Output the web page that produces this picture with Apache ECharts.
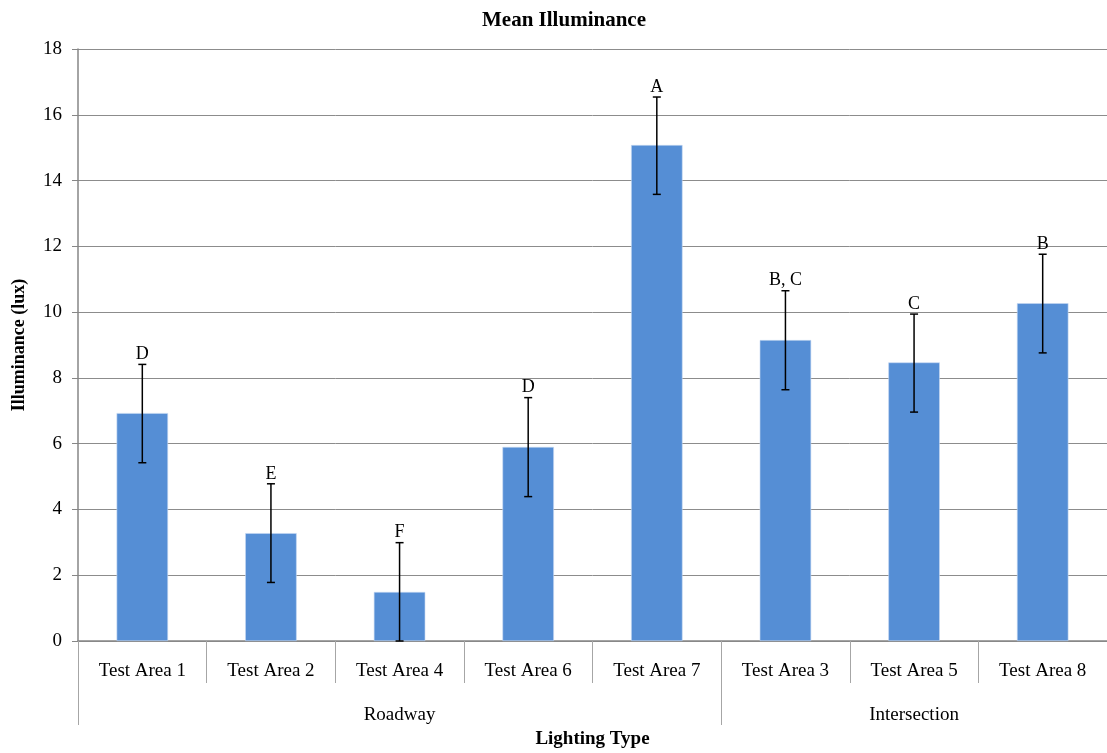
<!DOCTYPE html>
<html>
<head>
<meta charset="utf-8">
<script src="https://cdn.jsdelivr.net/npm/echarts@6/dist/echarts.min.js"></script>
<style>html,body{margin:0;padding:0;background:#fff}#c{width:1107px;height:753px}</style>
</head>
<body>
<div id="c"></div>
<script>
const categories = ['Test Area 1','Test Area 2','Test Area 4','Test Area 6','Test Area 7','Test Area 3','Test Area 5','Test Area 8'];
const groupLabels = ['', '', 'Roadway', '', '', '', 'Intersection', ''];
const groupStarts = [0, 5];
const meanValues = [6.93, 3.28, 1.49, 5.90, 15.08, 9.15, 8.47, 10.27];
const errLow = [5.42, 1.78, 0.0, 4.39, 13.58, 7.64, 6.96, 8.76];
const errHigh = [8.41, 4.78, 2.99, 7.40, 16.54, 10.65, 9.94, 11.76];
const letters = ['D','E','F','D','A','B, C','C','B'];
const yTicks = { min: 0, max: 18, interval: 2 };

const FONT = 'Liberation Serif';
const chart = echarts.init(document.getElementById('c'), null, {renderer: 'canvas'});

const errData = categories.map((c, i) => [i, errLow[i], errHigh[i], letters[i]]);

chart.setOption({
  animation: false,
  backgroundColor: '#fff',
  title: {
    text: 'Mean Illuminance',
    left: 559, top: 5, textAlign: 'center',
    textStyle: {fontFamily: FONT, fontWeight: 'bold', fontSize: 21, color: '#000'}
  },
  grid: {left: 78, right: 0, top: 49, bottom: 112, containLabel: false, outerBoundsMode: 'none'},
  xAxis: [{
    type: 'category',
    data: categories,
    axisLine: {show: true, lineStyle: {color: '#868686', width: 1.5}},
    axisTick: {show: true, length: 42, lineStyle: {color: '#a6a6a6', width: 1}},
    axisLabel: {fontFamily: FONT, fontSize: 19, color: '#000', margin: 21, interval: 0},
    splitLine: {show: false}
  }, {
    type: 'category',
    data: groupLabels,
    position: 'bottom',
    offset: 0,
    axisLine: {show: false},
    axisTick: {show: true, length: 84, interval: function (idx) { return groupStarts.indexOf(idx) >= 0; }, lineStyle: {color: '#a6a6a6', width: 1}},
    axisLabel: {fontFamily: FONT, fontSize: 19, color: '#000', margin: 65, interval: 0},
    name: 'Lighting Type',
    nameLocation: 'middle',
    nameGap: 89,
    nameTextStyle: {fontFamily: FONT, fontWeight: 'bold', fontSize: 19, color: '#000'}
  }],
  yAxis: {
    type: 'value',
    min: yTicks.min, max: yTicks.max, interval: yTicks.interval,
    name: 'Illuminance (lux)',
    nameLocation: 'middle',
    nameGap: 50,
    nameTextStyle: {fontFamily: FONT, fontWeight: 'bold', fontSize: 18, color: '#000'},
    axisLine: {show: true, lineStyle: {color: '#868686', width: 1.5}},
    axisTick: {show: true, length: 6, lineStyle: {color: '#868686'}},
    axisLabel: {fontFamily: FONT, fontSize: 19, color: '#000', margin: 16},
    splitLine: {show: true, lineStyle: {color: '#8c8c8c', width: 1}}
  },
  series: [{
    type: 'bar',
    data: meanValues,
    barWidth: '40%',
    itemStyle: {color: '#558ED5', borderColor: '#c6d9f1', borderWidth: 0.6},
    z: 2
  }, {
    type: 'custom',
    data: errData,
    z: 5,
    renderItem: function (params, api) {
      const x = api.value(0);
      const lo = api.coord([x, api.value(1)]);
      const hi = api.coord([x, api.value(2)]);
      const cap = 4;
      const st = {stroke: '#000', lineWidth: 1.5};
      return {
        type: 'group',
        children: [
          {type: 'line', shape: {x1: hi[0], y1: hi[1], x2: lo[0], y2: lo[1]}, style: st},
          {type: 'line', shape: {x1: hi[0]-cap, y1: hi[1], x2: hi[0]+cap, y2: hi[1]}, style: st},
          {type: 'line', shape: {x1: lo[0]-cap, y1: lo[1], x2: lo[0]+cap, y2: lo[1]}, style: st},
          {type: 'text', style: {text: api.value(3), x: hi[0], y: hi[1]-1, align: 'center', verticalAlign: 'bottom', font: '18px "' + FONT + '"', fill: '#000'}}
        ]
      };
    }
  }]
});
</script>
</body>
</html>
